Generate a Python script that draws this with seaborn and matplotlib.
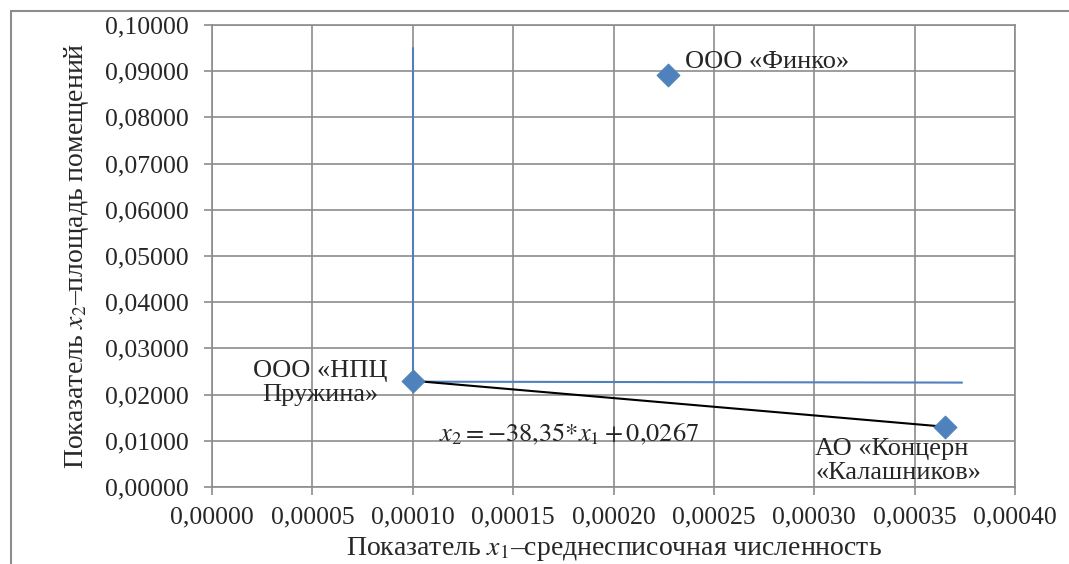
import matplotlib
matplotlib.use("Agg")
import matplotlib.pyplot as plt
import matplotlib.patches as mpatches
from matplotlib.ticker import FuncFormatter, MultipleLocator
import pandas as pd
import seaborn as sns

# data
companies = ["ООО «НПЦ\nПружина»", "ООО «Финко»", "АО «Концерн\n«Калашников»"]
x1 = [0.000100, 0.000227, 0.000365]
x2 = [0.0230, 0.0892, 0.01305]

# blue axis-like lines through the NPC point
vline_x = [0.0001003, 0.0001003]
vline_y = [0.0230, 0.0950]
hline_x = [0.0001003, 0.0003736]
hline_y = [0.0228, 0.0226]

# black regression line
reg_x = [0.000100, 0.000365]
reg_y = [0.0230, 0.01305]

equation = r"$x_2 = -38{,}35{*}x_1 + 0{,}0267$"

df = pd.DataFrame({"company": companies, "x1": x1, "x2": x2})

sns.set_style("white")
plt.rcParams["font.family"] = ["Liberation Serif", "DejaVu Serif"]
plt.rcParams["mathtext.fontset"] = "stix"

fig = plt.figure(figsize=(10.69, 5.64), dpi=100)
ax = fig.add_axes([212 / 1069, 1 - 487 / 564, (1015 - 212) / 1069, (487 - 25) / 564])

# outer chart frame
fig.patches.append(mpatches.Rectangle((11 / 1069, -0.1), 1.2, 1 - 11 / 564 + 0.1,
                                      transform=fig.transFigure, fill=False,
                                      edgecolor="#8c8c8c", linewidth=1.5))

grid_c = "#8c8c8c"
ax.set_xlim(0, 0.0004)
ax.set_ylim(0, 0.1)
ax.xaxis.set_major_locator(MultipleLocator(0.00005))
ax.yaxis.set_major_locator(MultipleLocator(0.01))
fmt = FuncFormatter(lambda v, p: f"{v:.5f}".replace(".", ","))
ax.xaxis.set_major_formatter(fmt)
ax.yaxis.set_major_formatter(fmt)
ax.grid(True, color=grid_c, linewidth=1.2)
for s in ax.spines.values():
    s.set_color(grid_c)
    s.set_linewidth(1.2)
ax.tick_params(axis="both", direction="out", length=6, width=1.2, color=grid_c,
               labelsize=18.5, bottom=True, left=True)
ax.tick_params(axis="y", pad=11)
ax.tick_params(axis="x", pad=8)

ax.plot(vline_x, vline_y, color="#4F81BD", linewidth=1.5, zorder=3)
ax.plot(hline_x, hline_y, color="#4F81BD", linewidth=1.5, zorder=3)
ax.plot(reg_x, reg_y, color="black", linewidth=1.5, zorder=3)

sns.scatterplot(data=df, x="x1", y="x2", marker="D", s=140, color="#4F81BD",
                edgecolor="#4F81BD", linewidth=0.5, ax=ax, zorder=4)

ax.text(0.0002356, 0.0920, companies[1], fontsize=19, ha="left", va="center")
ax.text(0.0000538, 0.0225, companies[0], fontsize=19, ha="center", va="center",
        multialignment="center", linespacing=1.15)
ax.text(0.0003004, 0.0056, companies[2], fontsize=19, ha="left", va="center",
        linespacing=1.15)
ax.text(0.000178, 0.0113, equation, fontsize=19, ha="center", va="center")

ax.set_xlabel(r"Показатель $x_1$–среднесписочная численность", fontsize=20, labelpad=5)
ax.set_ylabel(r"Показатель $x_2$–площадь помещений", fontsize=20, labelpad=10)

fig.savefig("out.png", dpi=100)
